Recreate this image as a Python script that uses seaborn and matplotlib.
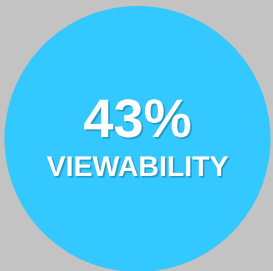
import matplotlib
matplotlib.use("Agg")
import matplotlib.pyplot as plt
import matplotlib.patheffects as pe
from matplotlib.patches import Circle
import seaborn as sns

# data
metric_value = [43]
metric_label = ["VIEWABILITY"]

sns.set_theme(style="white")
plt.rcParams['font.family'] = ['Liberation Sans', 'DejaVu Sans']

fig = plt.figure(figsize=(2.73, 2.71), dpi=100, facecolor="#c3c3c3")
ax = fig.add_axes([0, 0, 1, 1])
ax.set_facecolor("#c3c3c3")
ax.set_xlim(0, 273)
ax.set_ylim(271, 0)
ax.set_aspect("equal")
ax.axis("off")

ax.add_patch(Circle((137.5, 139), 133, color="#33c8ff", lw=0))

shadow = [pe.SimplePatchShadow(offset=(1.2, -1.2), shadow_rgbFace="#1a6f8f", alpha=0.5), pe.Normal()]
ax.text(137.5, 137, f"{metric_value[0]}%", color="white", fontsize=39, fontweight="bold",
        ha="center", va="baseline", path_effects=shadow)
ax.text(137.5, 176, metric_label[0], color="white", fontsize=20.5, fontweight="bold",
        ha="center", va="baseline", path_effects=shadow)

fig.savefig("out.png", dpi=100, facecolor=fig.get_facecolor())
